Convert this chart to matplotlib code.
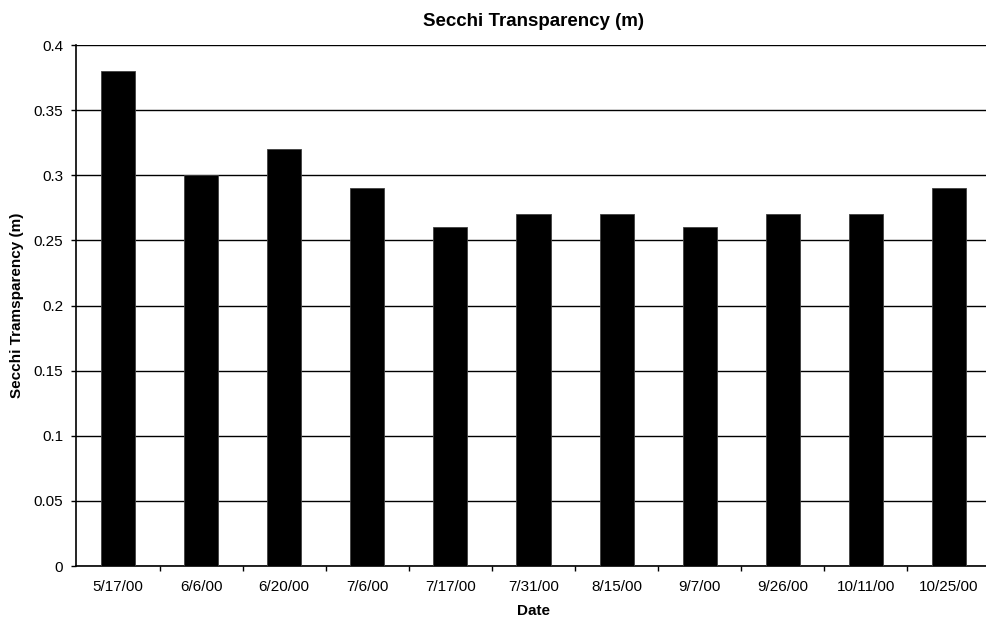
import matplotlib
matplotlib.use("Agg")
import matplotlib.pyplot as plt
import numpy as np

dates = ["5/17/00", "6/6/00", "6/20/00", "7/6/00", "7/17/00", "7/31/00",
         "8/15/00", "9/7/00", "9/26/00", "10/11/00", "10/25/00"]
secchi = [0.38, 0.30, 0.32, 0.29, 0.26, 0.27, 0.27, 0.26, 0.27, 0.27, 0.29]
yticks = [0, 0.05, 0.1, 0.15, 0.2, 0.25, 0.3, 0.35, 0.4]
ytick_labels = ["0", "0.05", "0.1", "0.15", "0.2", "0.25", "0.3", "0.35", "0.4"]

plt.rcParams['font.family'] = ['Liberation Sans', 'DejaVu Sans']

fig = plt.figure(figsize=(9.87, 6.22), dpi=100)
ax = fig.add_axes([0.0775, 0.090, 0.926, 0.8376])

x = np.arange(len(dates))
ax.bar(x, secchi, width=0.41, color='black', edgecolor='#404040', linewidth=0.6, zorder=3)

ax.set_xlim(-0.5, len(dates) - 0.5)
ax.set_ylim(0, 0.4)
ax.set_yticks(yticks)
ax.set_yticklabels(ytick_labels, fontsize=11)
ax.yaxis.grid(True, color='black', linewidth=1.0, zorder=0)
ax.set_axisbelow(True)

ax.set_xticks(x)
ax.set_xticklabels(dates, fontsize=11)
ax.set_xticks(np.arange(len(dates)) + 0.5, minor=True)
ax.tick_params(axis='x', which='major', length=0, pad=10)
ax.tick_params(axis='x', which='minor', length=3.6, width=1, direction='out', color='black')
ax.tick_params(axis='y', length=3.6, width=1, direction='out', pad=6)

for s in ['top', 'right']:
    ax.spines[s].set_visible(False)
ax.spines['left'].set_linewidth(1.2)
ax.spines['bottom'].set_linewidth(1.2)

ax.set_title("Secchi Transparency (m)", fontsize=13.5, fontweight='bold', pad=14)
ax.set_xlabel("Date", fontsize=11, fontweight='bold', labelpad=7)
ax.set_ylabel("Secchi Tramsparency (m)", fontsize=11, fontweight='bold', labelpad=7)

fig.savefig("out.png", dpi=100)
